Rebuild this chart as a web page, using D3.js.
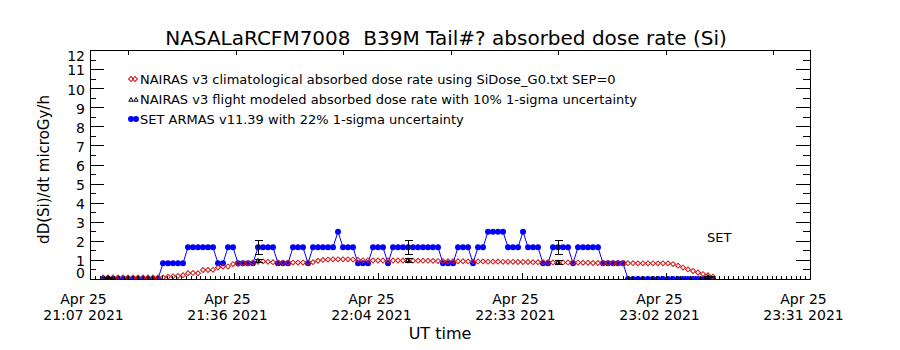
<!DOCTYPE html>
<html>
<head>
<meta charset="utf-8">
<script src="https://cdn.jsdelivr.net/npm/d3@7"></script>
<style>
  html, body { margin: 0; padding: 0; background: #fff; }
  svg { display: block; font-family: "DejaVu Sans", sans-serif; }
</style>
</head>
<body>
<svg id="chart" width="900" height="350"></svg>
<script>
// ---- text ----
const titleText = "NASALaRCFM7008  B39M Tail#? absorbed dose rate (Si)";
const yLabelText = "dD(Si)/dt microGy/h";
const xLabelText = "UT time";
const legendLabels = [
  "NAIRAS v3 climatological absorbed dose rate using SiDose_G0.txt SEP=0",
  "NAIRAS v3 flight modeled absorbed dose rate with 10% 1-sigma uncertainty",
  "SET ARMAS v11.39 with 22% 1-sigma uncertainty"
];
const noteText = "SET";

// ---- axes ----
const axisStart = "2021-04-25T21:07:12Z";
const axisEnd = "2021-04-25T23:31:12Z";
const xTickDates = ["Apr 25", "Apr 25", "Apr 25", "Apr 25", "Apr 25", "Apr 25"];
const xTickTimes = ["21:07 2021", "21:36 2021", "22:04 2021", "22:33 2021", "23:02 2021", "23:31 2021"];
const yTicks = [0, 1, 2, 3, 4, 5, 6, 7, 8, 9, 10, 11, 12];
const yMinorTicks = [0.5, 1.5, 2.5, 3.5, 4.5, 5.5, 6.5, 7.5, 8.5, 9.5, 10.5, 11.5];
const topTickTimes = ["2021-04-25T21:14:48Z", "2021-04-25T21:36:18Z", "2021-04-25T21:57:48Z",
  "2021-04-25T22:19:18Z", "2021-04-25T22:40:48Z", "2021-04-25T23:02:18Z", "2021-04-25T23:23:48Z"];

// ---- series: one sample per minute ----
const sampleStart = "2021-04-25T21:09:48Z";
const sampleStepSec = 60;

// SET ARMAS absorbed dose rate (microGy/h)
const setArmas = [
  0, 0, 0, 0, 0, 0, 0, 0, 0, 0, 0, 0,
  0.83, 0.83, 0.83, 0.83, 0.83,
  1.66, 1.66, 1.66, 1.66, 1.66, 1.66,
  0.83, 0.83,
  1.66, 1.66,
  0.83, 0.83, 0.83, 0.83,
  1.66, 1.66, 1.66, 1.66,
  0.83, 0.83, 0.83,
  1.66, 1.66, 1.66,
  0.83,
  1.66, 1.66, 1.66, 1.66, 1.66,
  2.48,
  1.66, 1.66, 1.66,
  0.83, 0.83, 0.83,
  1.66, 1.66, 1.66,
  0.83,
  1.66, 1.66, 1.66, 1.66, 1.66, 1.66, 1.66, 1.66, 1.66, 1.66,
  0.83, 0.83, 0.83,
  1.66, 1.66, 1.66,
  0.83,
  1.66, 1.66,
  2.48, 2.48, 2.48, 2.48,
  1.66, 1.66, 1.66,
  2.48,
  1.66, 1.66, 1.66,
  0.83, 0.83,
  1.66, 1.66, 1.66, 1.66,
  0.83,
  1.66, 1.66, 1.66, 1.66, 1.66,
  0.83, 0.83, 0.83, 0.83, 0.83,
  0, 0, 0, 0, 0, 0, 0, 0, 0, 0, 0, 0, 0, 0, 0, 0, 0, 0
];

// NAIRAS v3 climatological absorbed dose rate (microGy/h)
const nairasClim = [
  0.08, 0.08, 0.08, 0.08, 0.08, 0.08, 0.08, 0.08, 0.08, 0.08, 0.08, 0.08, 0.08,
  0.12, 0.14, 0.16, 0.20,
  0.30, 0.32, 0.30,
  0.47, 0.47, 0.48,
  0.60, 0.65, 0.65,
  0.78, 0.80, 0.82, 0.82, 0.85,
  0.90, 0.92, 0.90,
  0.88, 0.87, 0.86, 0.86, 0.86, 0.86, 0.86, 0.86, 0.88,
  0.95, 1.00, 1.02, 1.03, 1.03, 1.03, 1.03, 1.02, 1.00,
  0.98, 0.98, 0.97, 0.97, 0.97, 0.97, 0.97, 0.97, 0.97, 0.97, 0.96, 0.96, 0.96, 0.96, 0.95,
  0.94, 0.94, 0.93, 0.93, 0.93, 0.93, 0.92, 0.92, 0.92, 0.92, 0.91, 0.91, 0.91, 0.90,
  0.90, 0.90, 0.89, 0.89, 0.89, 0.88, 0.88, 0.88, 0.88, 0.87, 0.87, 0.87, 0.87, 0.86, 0.86,
  0.85, 0.85, 0.84, 0.84, 0.84, 0.84, 0.83, 0.83, 0.83, 0.83, 0.83, 0.82, 0.82, 0.82, 0.82, 0.82, 0.82,
  0.82, 0.78, 0.70, 0.60, 0.50, 0.42, 0.34, 0.26, 0.20, 0.12
];

// NAIRAS v3 flight modeled points (10% 1-sigma) and matching SET ARMAS samples (22% 1-sigma)
const flightTimes = ["2021-04-25T21:10:48Z", "2021-04-25T21:40:48Z", "2021-04-25T22:10:48Z",
  "2021-04-25T22:40:48Z", "2021-04-25T23:10:48Z"];
const flightValues = [0.05, 0.95, 0.97, 0.86, 0.10];
const flightSigma = 0.10;
const setSigma = 0.22;

// ---- layout ----
const L = 90, R = 810, T = 50, B = 279;
const parse = s => new Date(s);

const svg = d3.select("#chart");

const x = d3.scaleUtc().domain([parse(axisStart), parse(axisEnd)]).range([L, R]);
const y = d3.scaleLinear().domain([0, 12]).range([B, T]);

const t0 = +parse(sampleStart);
const sampleTime = i => new Date(t0 + i * sampleStepSec * 1000);
const setData = setArmas.map((v, i) => ({ t: sampleTime(i), v }));
const climData = nairasClim.map((v, i) => ({ t: sampleTime(i), v }));
const flightData = flightTimes.map((s, i) => {
  const t = parse(s);
  const idx = Math.round((+t - t0) / (sampleStepSec * 1000));
  return { t, v: flightValues[i], s: setArmas[idx] };
});

// major x ticks split the axis into five equal spans; 30 minor ticks per span
const xStart = +parse(axisStart), xEnd = +parse(axisEnd);
const span = (xEnd - xStart) / 5;
const xMajor = d3.range(6).map(k => new Date(xStart + k * span));
const xMinor = d3.range(151).filter(k => k % 30 !== 0).map(k => new Date(xStart + k * span / 30));

// ---- data (clipped to the plot box) ----
svg.append("clipPath").attr("id", "plotclip")
  .append("rect").attr("x", L).attr("y", T).attr("width", R - L).attr("height", B - T);

const plot = svg.append("g").attr("clip-path", "url(#plotclip)");

// SET ARMAS: connected filled dots
plot.append("path")
  .datum(setData)
  .attr("fill", "none")
  .attr("stroke", "#0000ff")
  .attr("stroke-width", 1)
  .attr("d", d3.line().x(d => x(d.t)).y(d => y(d.v)));
plot.append("g").selectAll("circle")
  .data(setData).join("circle")
  .attr("cx", d => x(d.t)).attr("cy", d => y(d.v)).attr("r", 3)
  .attr("fill", "#0000ff");

// NAIRAS climatological: open diamonds
const diamond = d3.symbol().type(d3.symbolSquare).size(12);
plot.append("g").selectAll("path")
  .data(climData).join("path")
  .attr("d", diamond)
  .attr("transform", d => `translate(${x(d.t)},${y(d.v)}) rotate(45)`)
  .attr("fill", "none")
  .attr("stroke", "#d01818")
  .attr("stroke-width", 1);

// error bars for SET ARMAS and NAIRAS flight modeled
const errG = plot.append("g").attr("stroke", "#000").attr("stroke-width", 1).attr("shape-rendering", "crispEdges");
function errBar(t, v, sig, half) {
  const cx = Math.round(x(t)) + 0.5;
  const y0 = y(v * (1 - sig)), y1 = y(v * (1 + sig));
  errG.append("line").attr("x1", cx).attr("x2", cx).attr("y1", y0).attr("y2", y1);
  errG.append("line").attr("x1", cx - half).attr("x2", cx + half).attr("y1", y0).attr("y2", y0);
  errG.append("line").attr("x1", cx - half).attr("x2", cx + half).attr("y1", y1).attr("y2", y1);
}
flightData.forEach(d => {
  errBar(d.t, d.s, setSigma, 4);
  errBar(d.t, d.v, flightSigma, 4);
});
const tri = d3.symbol().type(d3.symbolTriangle).size(8);
plot.append("g").selectAll("path")
  .data(flightData).join("path")
  .attr("d", tri)
  .attr("transform", d => `translate(${x(d.t)},${y(d.v)})`)
  .attr("fill", "none").attr("stroke", "#000").attr("stroke-width", 1);

// ---- axes ----
const axisFont = g => g.attr("font-family", "DejaVu Sans, sans-serif").attr("font-size", 14);

const yAxisL = svg.append("g").attr("transform", `translate(${L},0)`)
  .call(d3.axisLeft(y).tickValues(yTicks).tickSize(-14).tickPadding(5).tickFormat(d3.format("d")))
  .call(axisFont);
yAxisL.selectAll(".tick text")
  .attr("fill", "#000")
  .attr("dy", d => d === 0 ? "-0.12em" : d === 12 ? "0.78em" : "0.42em")
  .attr("x", -5);
svg.append("g").attr("transform", `translate(${L},0)`)
  .call(d3.axisLeft(y).tickValues(yMinorTicks).tickSize(-6).tickFormat(""));
svg.append("g").attr("transform", `translate(${R},0)`)
  .call(d3.axisRight(y).tickValues(yTicks).tickSize(-14).tickFormat(""));
svg.append("g").attr("transform", `translate(${R},0)`)
  .call(d3.axisRight(y).tickValues(yMinorTicks).tickSize(-7).tickFormat(""));

const xAxisB = svg.append("g").attr("transform", `translate(0,${B})`)
  .call(d3.axisBottom(x).tickValues(xMajor).tickSize(-6).tickPadding(12)
    .tickFormat((d, i) => i))
  .call(axisFont);
xAxisB.selectAll(".tick text").each(function(d, i) {
  const t = d3.select(this).text("").attr("fill", "#000").attr("dy", null).attr("y", 0);
  t.append("tspan").attr("x", -7).attr("y", 25).text(xTickDates[i]);
  t.append("tspan").attr("x", -7).attr("y", 41).text(xTickTimes[i]);
});
svg.append("g").attr("transform", `translate(0,${B})`)
  .call(d3.axisBottom(x).tickValues(xMinor).tickSize(-3).tickFormat(""));
svg.append("g").attr("transform", `translate(0,${T})`)
  .call(d3.axisTop(x).tickValues(topTickTimes.map(parse)).tickSize(-5).tickFormat(""));

svg.selectAll(".domain").remove();
svg.selectAll(".tick line").attr("stroke", "#000").attr("shape-rendering", "crispEdges");

// plot frame
svg.append("rect")
  .attr("x", L + 0.5).attr("y", T + 0.5).attr("width", R - L).attr("height", B - T)
  .attr("fill", "none").attr("stroke", "#000").attr("stroke-width", 1)
  .attr("shape-rendering", "crispEdges");

// ---- titles ----
svg.append("text")
  .attr("x", 446).attr("y", 45)
  .attr("text-anchor", "middle").attr("font-size", 20).attr("fill", "#000")
  .style("white-space", "pre")
  .text(titleText);

svg.append("text")
  .attr("transform", `translate(49,${(T + B) / 2 + 5}) rotate(-90)`)
  .attr("text-anchor", "middle").attr("font-size", 15).attr("fill", "#000")
  .text(yLabelText);

svg.append("text")
  .attr("x", 440).attr("y", 339)
  .attr("text-anchor", "middle").attr("font-size", 16).attr("fill", "#000")
  .text(xLabelText);

svg.append("text")
  .attr("x", 707).attr("y", 242)
  .attr("font-size", 13).attr("fill", "#000")
  .text(noteText);

// ---- legend ----
const legX = 140;
const legBase = [84, 104, 124];
const leg = svg.append("g");
legendLabels.forEach((s, i) => {
  leg.append("text").attr("x", legX).attr("y", legBase[i])
    .attr("font-size", 13).attr("fill", "#000").text(s);
});
// diamonds
[131, 135].forEach(cx => {
  leg.append("path").attr("d", diamond)
    .attr("transform", `translate(${cx},${legBase[0] - 5}) rotate(45)`)
    .attr("fill", "none").attr("stroke", "#d01818");
});
// triangles
[131, 136].forEach(cx => {
  leg.append("path").attr("d", tri)
    .attr("transform", `translate(${cx},${legBase[1] - 4})`)
    .attr("fill", "none").attr("stroke", "#000");
});
// dots with line
leg.append("line").attr("x1", 130).attr("x2", 138)
  .attr("y1", legBase[2] - 5).attr("y2", legBase[2] - 5)
  .attr("stroke", "#0000ff").attr("stroke-width", 1);
[131, 136].forEach(cx => {
  leg.append("circle").attr("cx", cx).attr("cy", legBase[2] - 5).attr("r", 3).attr("fill", "#0000ff");
});
</script>
</body>
</html>
